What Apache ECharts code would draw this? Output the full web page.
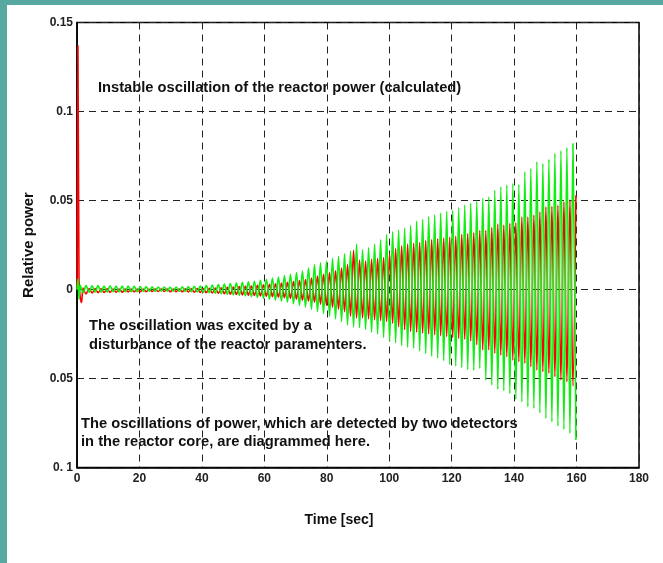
<!DOCTYPE html>
<html>
<head>
<meta charset="utf-8">
<script src="https://cdn.jsdelivr.net/npm/echarts@6/dist/echarts.min.js"></script>
<style>
html,body{margin:0;padding:0;background:#fff;}
#chart{width:663px;height:563px;}
</style>
</head>
<body>
<div id="chart"></div>
<script>
// Time stamps (s) of the read-off turning points
const times = [
  0, 0.3, 0.65, 1.0, 1.45,
  1.95, 2.91, 3.88, 4.84, 5.80, 6.76, 7.73, 8.69,
  9.65, 10.61, 11.58, 12.54, 13.50, 14.46, 15.43, 16.39,
  17.35, 18.31, 19.28, 20.24, 21.20, 22.16, 23.13, 24.09,
  25.05, 26.01, 26.98, 27.94, 28.90, 29.86, 30.83, 31.79,
  32.75, 33.71, 34.68, 35.64, 36.60, 37.56, 38.53, 39.49,
  40.45, 41.41, 42.38, 43.34, 44.30, 45.26, 46.23, 47.19,
  48.15, 49.11, 50.08, 51.04, 52.00, 52.96, 53.93, 54.89,
  55.85, 56.81, 57.78, 58.74, 59.70, 60.66, 61.63, 62.59,
  63.55, 64.51, 65.48, 66.44, 67.40, 68.36, 69.33, 70.29,
  71.25, 72.21, 73.18, 74.14, 75.10, 76.06, 77.03, 77.99,
  78.95, 79.91, 80.88, 81.84, 82.80, 83.76, 84.73, 85.69,
  86.65, 87.61, 88.58, 89.54, 90.50, 91.46, 92.43, 93.39,
  94.35, 95.31, 96.28, 97.24, 98.20, 99.16, 100.13, 101.09,
  102.05, 103.01, 103.98, 104.94, 105.90, 106.86, 107.83, 108.79,
  109.75, 110.71, 111.68, 112.64, 113.60, 114.56, 115.53, 116.49,
  117.45, 118.41, 119.38, 120.34, 121.30, 122.26, 123.23, 124.19,
  125.15, 126.11, 127.08, 128.04, 129.00, 129.96, 130.93, 131.89,
  132.85, 133.81, 134.78, 135.74, 136.70, 137.66, 138.63, 139.59,
  140.55, 141.51, 142.48, 143.44, 144.40, 145.36, 146.33, 147.29,
  148.25, 149.21, 150.18, 151.14, 152.10, 153.06, 154.03, 154.99,
  155.95, 156.91, 157.88, 158.84, 159.80
];

// Detector 2 (green) relative power
const greenPower = [
  0, 0.006, -0.0055, 0.0025, 0.0003,
  -0.0018, 0.0022, -0.0015, 0.0021, -0.0014, 0.0022, -0.0015, 0.0020,
  -0.0014, 0.0021, -0.0013, 0.0020, -0.0014, 0.0019, -0.0013, 0.0019,
  -0.0012, 0.0018, -0.0012, 0.0016, -0.0011, 0.0016, -0.0010, 0.0015,
  -0.0010, 0.0014, -0.0009, 0.0014, -0.0009, 0.0013, -0.0009, 0.0014,
  -0.0010, 0.0015, -0.0011, 0.0016, -0.0012, 0.0018, -0.0014, 0.0020,
  -0.0016, 0.0022, -0.0018, 0.0025, -0.0021, 0.0028, -0.0024, 0.0031,
  -0.0027, 0.0034, -0.0030, 0.0037, -0.0033, 0.0040, -0.0036, 0.0043,
  -0.0040, 0.0046, -0.0045, 0.0052, -0.0050, 0.0058, -0.0055, 0.0064,
  -0.0060, 0.0070, -0.0066, 0.0078, -0.0072, 0.0086, -0.0080, 0.0095,
  -0.0089, 0.0104, -0.0098, 0.0120, -0.0110, 0.0140, -0.0125, 0.0150,
  -0.0135, 0.0160, -0.0150, 0.0175, -0.0165, 0.0185, -0.0180, 0.0200,
  -0.0200, 0.0215, -0.0210, 0.0255, -0.0215, 0.0225, -0.0225, 0.0235,
  -0.0240, 0.0255, -0.0250, 0.0280, -0.0270, 0.0310, -0.0290, 0.0325,
  -0.0300, 0.0335, -0.0315, 0.0345, -0.0325, 0.0360, -0.0330, 0.0385,
  -0.0345, 0.0395, -0.0360, 0.0410, -0.0375, 0.0420, -0.0385, 0.0430,
  -0.0400, 0.0440, -0.0420, 0.0445, -0.0430, 0.0460, -0.0440, 0.0475,
  -0.0450, 0.0485, -0.0455, 0.0495, -0.0443, 0.0512, -0.0509, 0.0521,
  -0.0537, 0.0558, -0.0561, 0.0577, -0.0569, 0.0587, -0.0584, 0.0596,
  -0.0617, 0.0590, -0.0631, 0.0661, -0.0659, 0.0680, -0.0668, 0.0717,
  -0.0693, 0.0708, -0.0724, 0.0731, -0.0743, 0.0765, -0.0767, 0.0780,
  -0.0786, 0.0798, -0.0808, 0.0820, -0.0846
];

// Detector 1 (red) relative power
const redPower = [
  0, 0.137, 0.004, -0.004, -0.0073,
  0.0008, -0.0025, 0.0006, -0.0020, 0.0005, -0.0018, 0.0004, -0.0017,
  0.0004, -0.0016, 0.0003, -0.0015, 0.0003, -0.0015, 0.0002, -0.0014,
  0.0002, -0.0013, 0.0002, -0.0012, 0.0002, -0.0012, 0.0001, -0.0011,
  0.0002, -0.0011, 0.0002, -0.0011, 0.0002, -0.0012, 0.0002, -0.0012,
  0.0003, -0.0013, 0.0004, -0.0014, 0.0004, -0.0015, 0.0005, -0.0016,
  0.0006, -0.0018, 0.0007, -0.0020, 0.0008, -0.0022, 0.0010, -0.0024,
  0.0012, -0.0026, 0.0014, -0.0028, 0.0016, -0.0030, 0.0018, -0.0032,
  0.0020, -0.0034, 0.0023, -0.0036, 0.0026, -0.0038, 0.0029, -0.0040,
  0.0032, -0.0043, 0.0036, -0.0046, 0.0040, -0.0050, 0.0044, -0.0055,
  0.0050, -0.0060, 0.0056, -0.0066, 0.0064, -0.0072, 0.0075, -0.0082,
  0.0085, -0.0090, 0.0095, -0.0100, 0.0105, -0.0110, 0.0120, -0.0125,
  0.0140, -0.0150, 0.0220, -0.0160, 0.0165, -0.0160, 0.0160, -0.0165,
  0.0170, -0.0170, 0.0175, -0.0175, 0.0180, -0.0180, 0.0200, -0.0190,
  0.0230, -0.0210, 0.0245, -0.0225, 0.0255, -0.0235, 0.0260, -0.0240,
  0.0265, -0.0245, 0.0275, -0.0250, 0.0280, -0.0255, 0.0285, -0.0260,
  0.0290, -0.0265, 0.0295, -0.0270, 0.0300, -0.0275, 0.0310, -0.0280,
  0.0315, -0.0290, 0.0320, -0.0310, 0.0333, -0.0340, 0.0333, -0.0340,
  0.0349, -0.0359, 0.0368, -0.0369, 0.0362, -0.0378, 0.0372, -0.0397,
  0.0375, -0.0406, 0.0408, -0.0415, 0.0408, -0.0434, 0.0418, -0.0453,
  0.0437, -0.0462, 0.0465, -0.0471, 0.0468, -0.0490, 0.0474, -0.0509,
  0.0493, -0.0518, 0.0502, -0.0543, 0.0530
];

// Tick labels as printed in the original
const yTickValues = [0.15, 0.1, 0.05, 0, -0.05, -0.1];
const yTickLabels = ['0.15', '0.1', '0.05', '0', '0.05', '0. 1'];
const xTickLabels = ['0', '20', '40', '60', '80', '100', '120', '140', '160', '180'];

const xTitle = 'Time [sec]';
const yTitle = 'Relative power';
const annotations = [
  'Instable oscillation of the reactor power (calculated)',
  'The oscillation was excited by a',
  'disturbance of the reactor paramenters.',
  'The oscillations of power, which are detected by two detectors',
  'in the reactor core, are diagrammed here.'
];

const FONT = '"Liberation Sans", Arial, Helvetica, sans-serif';
const TEAL = '#57a8a0';
const INK = '#111';

const chart = echarts.init(document.getElementById('chart'), null, {renderer: 'canvas'});

function yLabel(v) {
  let best = 0, d = Infinity;
  yTickValues.forEach((tv, i) => { const dd = Math.abs(tv - v); if (dd < d) { d = dd; best = i; } });
  return yTickLabels[best];
}

const txt = (x, y, s) => ({
  type: 'text', left: x, top: y - 5.5,
  style: { text: s, font: 'bold 14.7px ' + FONT, fill: INK }
});

chart.setOption({
  animation: false,
  backgroundColor: '#fff',
  grid: { left: 77, top: 22.5, width: 562, height: 445, show: true, borderColor: '#000', borderWidth: 1.5, backgroundColor: 'transparent' },
  xAxis: {
    type: 'value', min: 0, max: 180, interval: 20,
    axisLine: { show: true, onZero: false, lineStyle: { color: '#000', width: 1.5 } },
    axisTick: { show: false },
    axisLabel: { fontFamily: FONT, fontSize: 12, fontWeight: 'bold', color: '#222', margin: 5,
      formatter: v => xTickLabels[Math.round(v / 20)] },
    splitLine: { show: true, lineStyle: { color: '#222', width: 1, type: [7, 5] } }
  },
  yAxis: {
    type: 'value', min: -0.1, max: 0.15, interval: 0.05,
    name: yTitle, nameLocation: 'middle', nameGap: 41, nameRotate: 90,
    nameTextStyle: { fontFamily: FONT, fontSize: 15, fontWeight: 'bold', color: INK },
    axisLine: { show: true, onZero: false, lineStyle: { color: '#000', width: 1.5 } },
    axisTick: { show: false },
    axisLabel: { fontFamily: FONT, fontSize: 12, fontWeight: 'bold', color: '#222', margin: 4, formatter: yLabel },
    splitLine: { show: true, lineStyle: { color: '#222', width: 1, type: [7, 5] } }
  },
  series: [
    {
      name: 'Detector 1', type: 'line', showSymbol: false, symbol: 'none', smooth: 0.3,
      lineStyle: { color: '#ff0000', width: 1.6 },
      data: times.map((t, i) => [t, redPower[i]]), z: 2
    },
    {
      name: 'Detector 2', type: 'line', showSymbol: false, symbol: 'none', smooth: 0.3,
      lineStyle: { color: '#11ee11', width: 1.6 },
      data: times.map((t, i) => [t, greenPower[i]]), z: 3
    }
  ],
  graphic: [
    { type: 'rect', shape: { x: 0, y: 0, width: 663, height: 5 }, style: { fill: TEAL }, z: 100 },
    { type: 'rect', shape: { x: 0, y: 0, width: 7, height: 563 }, style: { fill: TEAL }, z: 100 },
    { type: 'text', x: 339, y: 520,
      style: { text: xTitle, font: 'bold 14px ' + FONT, fill: INK, textAlign: 'center', textVerticalAlign: 'middle' } },
    txt(98, 86, annotations[0]),
    txt(89, 324, annotations[1]),
    txt(89, 343, annotations[2]),
    txt(81, 422, annotations[3]),
    txt(81, 440, annotations[4])
  ]
});
</script>
</body>
</html>
